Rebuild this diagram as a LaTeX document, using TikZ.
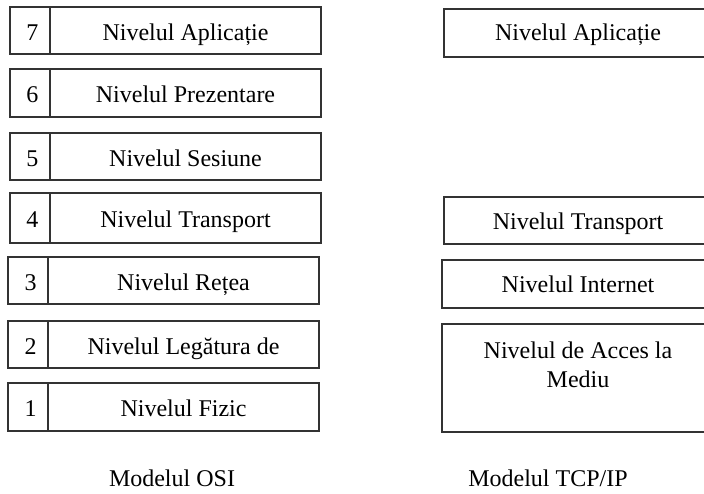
\documentclass[tikz,border=0pt]{standalone}
\usepackage{fontspec}
\setmainfont{Liberation Serif}
\begin{document}
\begin{tikzpicture}[x=1pt, y=-1pt,
  layer/.style={draw=black!80, line width=1.5pt, inner sep=0pt, fill=none},
  lbl/.style={font=\fontsize{24}{29}\selectfont, anchor=base, inner sep=0pt, text=black},
  caption/.style={font=\fontsize{24}{29}\selectfont, anchor=base, inner sep=0pt, text=black}]
\useasboundingbox (0,0) rectangle (704,493);
\clip (0,0) rectangle (704,493);

% OSI row: id, number, name, left, divider, right, top, bottom
\newcommand\osirow[8]{%
  \node[layer, minimum width={#5pt-#4pt}, minimum height={#8pt-#7pt}]
    (#1n) at ({(#4+#5)/2},{(#7+#8)/2}) {};
  \node[layer, minimum width={#6pt-#5pt}, minimum height={#8pt-#7pt}]
    (#1) at ({(#5+#6)/2},{(#7+#8)/2}) {};
  \node[lbl] (#1nt) at ([xshift=2.5pt,yshift=-9.5pt]#1n.center) {#2};
  \node[lbl] (#1t) at ([yshift=-9.5pt]#1.center) {#3};
}
% TCP/IP box: id, left, right, top, bottom
\newcommand\tcpbox[5]{%
  \node[layer, minimum width={#3pt-#2pt}, minimum height={#5pt-#4pt}]
    (#1) at ({(#2+#3)/2},{(#4+#5)/2}) {};
}

% Modelul OSI
\osirow{osi7}{7}{Nivelul Aplicație}{10}{50}{321}{7}{54}
\osirow{osi6}{6}{Nivelul Prezentare}{10}{50}{321}{69}{117}
\osirow{osi5}{5}{Nivelul Sesiune}{10}{50}{321}{133}{180}
\osirow{osi4}{4}{Nivelul Transport}{10}{50}{321}{193}{243}
\osirow{osi3}{3}{Nivelul Rețea}{8}{48}{319}{257}{304}
\osirow{osi2}{2}{Nivelul Legătura de}{8}{48}{319}{321}{368}
\osirow{osi1}{1}{Nivelul Fizic}{8}{48}{319}{383}{431}

% Modelul TCP/IP
\tcpbox{tapp}{444}{712}{9}{57}
\tcpbox{ttr}{444}{712}{197}{244}
\tcpbox{tin}{442}{712}{260}{308}
\tcpbox{tacc}{442}{712}{324}{432}

\node[lbl] (tappt) at (578,40) {Nivelul Aplicație};
\node[lbl] (ttrt) at (578,229) {Nivelul Transport};
\node[lbl] (tint) at (578,292) {Nivelul Internet};
\node[lbl] (tacct1) at (578,358) {Nivelul de Acces la};
\node[lbl] (tacct2) at (578,387) {Mediu};

% Captions
\node[caption] (osicap) at (172,486) {Modelul OSI};
\node[caption] (tcpcap) at (548,486) {Modelul TCP/IP};
\end{tikzpicture}
\end{document}
